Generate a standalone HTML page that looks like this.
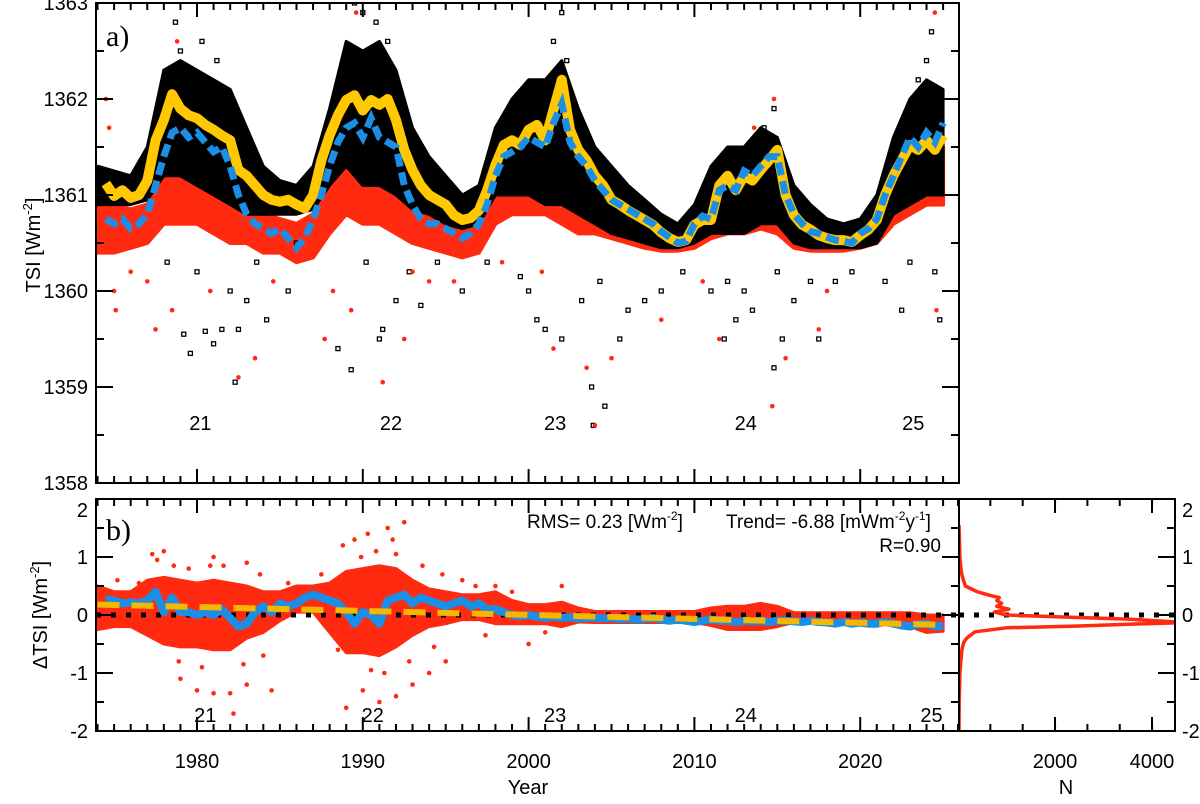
<!DOCTYPE html>
<html><head><meta charset="utf-8"><style>
body{margin:0;background:#fff}
svg text{font-family:"Liberation Sans",Arial,sans-serif;fill:#000}
</style></head><body>
<svg id="chart" width="1200" height="799" viewBox="0 0 1200 799" xmlns="http://www.w3.org/2000/svg">
<defs>
<clipPath id="clipA"><rect x="96" y="3" width="863" height="480"/></clipPath>
<clipPath id="clipB"><rect x="96" y="499" width="863" height="232"/></clipPath>
<clipPath id="clipH"><rect x="959" y="499" width="216" height="232"/></clipPath>
</defs>
<g id="layerA" clip-path="url(#clipA)"></g>
<g id="layerB" clip-path="url(#clipB)"></g>
<g id="layerH" clip-path="url(#clipH)"></g>
<g id="axes"></g>
<text x="106" y="46" font-size="30" style="font-family:'Liberation Serif',serif">a)</text>
<text x="106" y="540" font-size="30" style="font-family:'Liberation Serif',serif">b)</text>
<text transform="translate(40,245) rotate(-90)" font-size="20" text-anchor="middle">TSI [Wm<tspan dy="-8" font-size="13">-2</tspan><tspan dy="8">]</tspan></text>
<text transform="translate(47,615) rotate(-90)" font-size="20" text-anchor="middle">ΔTSI [Wm<tspan dy="-8" font-size="13">-2</tspan><tspan dy="8">]</tspan></text>
<text x="528" y="794" font-size="20" text-anchor="middle">Year</text>
<text x="1066" y="794" font-size="20" text-anchor="middle">N</text>
<text x="527" y="528" font-size="19">RMS= 0.23 [Wm<tspan dy="-8" font-size="12">-2</tspan><tspan dy="8">]</tspan></text>
<text x="726" y="528" font-size="19">Trend= -6.88 [mWm<tspan dy="-8" font-size="12">-2</tspan><tspan dy="8">y</tspan><tspan dy="-8" font-size="12">-1</tspan><tspan dy="8">]</tspan></text>
<text x="941" y="552" font-size="19" text-anchor="end">R=0.90</text>
<script>
// ---------- data ----------
const halfStart = 1974.5;
const yellowTSI = [1361.12,1360.99,1361.05,1360.97,1361.0,1361.15,1361.57,1361.78,1362.05,1361.9,1361.83,1361.8,1361.73,1361.68,1361.62,1361.57,1361.26,1361.2,1361.1,1361.0,1360.95,1360.93,1360.95,1360.9,1360.86,1361.0,1361.36,1361.62,1361.83,1361.99,1362.04,1361.88,1361.99,1361.94,1362.0,1361.78,1361.47,1361.26,1361.1,1361.0,1360.95,1360.9,1360.79,1360.74,1360.76,1360.84,1361.05,1361.31,1361.52,1361.57,1361.52,1361.68,1361.73,1361.57,1361.89,1362.2,1361.68,1361.47,1361.36,1361.2,1361.1,1360.95,1360.9,1360.84,1360.79,1360.74,1360.69,1360.61,1360.55,1360.51,1360.53,1360.69,1360.74,1360.74,1361.1,1361.2,1361.05,1361.2,1361.15,1361.26,1361.36,1361.47,1361.0,1360.79,1360.69,1360.64,1360.58,1360.55,1360.53,1360.53,1360.51,1360.58,1360.64,1360.74,1361.0,1361.2,1361.36,1361.52,1361.47,1361.57,1361.47,1361.62];
const blueTSI = [1360.75,1360.7,1360.75,1360.65,1360.7,1360.8,1361.1,1361.4,1361.65,1361.7,1361.6,1361.65,1361.55,1361.45,1361.5,1361.3,1361.0,1360.8,1360.7,1360.65,1360.6,1360.65,1360.55,1360.45,1360.55,1360.75,1361.0,1361.3,1361.55,1361.7,1361.75,1361.6,1361.8,1361.6,1361.55,1361.5,1361.1,1360.9,1360.75,1360.7,1360.7,1360.65,1360.6,1360.55,1360.6,1360.7,1360.9,1361.2,1361.4,1361.45,1361.5,1361.6,1361.55,1361.5,1361.75,1361.95,1361.55,1361.4,1361.3,1361.15,1361.05,1360.95,1360.9,1360.85,1360.8,1360.75,1360.7,1360.62,1360.56,1360.5,1360.52,1360.7,1360.78,1360.75,1361.05,1361.1,1361.05,1361.25,1361.2,1361.3,1361.4,1361.4,1361.0,1360.8,1360.7,1360.62,1360.6,1360.56,1360.53,1360.52,1360.5,1360.6,1360.65,1360.75,1361.0,1361.2,1361.4,1361.6,1361.5,1361.65,1361.55,1361.75];
const annYears = [1974,1975,1976,1977,1978,1979,1980,1981,1982,1983,1984,1985,1986,1987,1988,1989,1990,1991,1992,1993,1994,1995,1996,1997,1998,1999,2000,2001,2002,2003,2004,2005,2006,2007,2008,2009,2010,2011,2012,2013,2014,2015,2016,2017,2018,2019,2020,2021,2022,2023,2024,2025];
const blackHi = [1361.3,1361.25,1361.2,1361.5,1362.3,1362.4,1362.3,1362.2,1362.1,1361.7,1361.3,1361.15,1361.1,1361.3,1361.9,1362.6,1362.5,1362.6,1362.3,1361.7,1361.4,1361.2,1361.0,1361.1,1361.7,1362.0,1362.2,1362.2,1362.4,1361.9,1361.5,1361.3,1361.1,1360.95,1360.8,1360.7,1360.9,1361.3,1361.5,1361.5,1361.7,1361.6,1361.1,1360.9,1360.75,1360.7,1360.75,1361.0,1361.6,1362.0,1362.2,1362.1];
const blackLo = [1360.9,1360.9,1360.9,1360.95,1361.2,1361.2,1361.1,1361.0,1360.9,1360.8,1360.8,1360.8,1360.8,1360.85,1361.1,1361.3,1361.1,1361.1,1361.0,1360.85,1360.8,1360.7,1360.65,1360.7,1361.0,1361.0,1361.0,1360.9,1360.9,1360.8,1360.7,1360.6,1360.55,1360.5,1360.45,1360.45,1360.5,1360.6,1360.6,1360.6,1360.7,1360.7,1360.5,1360.45,1360.45,1360.45,1360.45,1360.5,1360.8,1360.9,1361.0,1361.0];
const redHi = [1361.0,1360.9,1360.85,1360.9,1361.3,1361.4,1361.3,1361.2,1361.1,1360.9,1360.8,1360.75,1360.7,1360.8,1361.2,1361.4,1361.4,1361.5,1361.3,1360.9,1360.8,1360.7,1360.65,1360.7,1361.1,1361.2,1361.3,1361.2,1361.2,1361.0,1360.9,1360.8,1360.7,1360.6,1360.55,1360.55,1360.6,1360.9,1361.0,1361.0,1361.1,1361.1,1360.8,1360.6,1360.55,1360.55,1360.6,1360.8,1361.2,1361.4,1361.6,1361.5];
const redLo = [1360.4,1360.4,1360.45,1360.5,1360.7,1360.7,1360.7,1360.6,1360.5,1360.5,1360.4,1360.4,1360.3,1360.35,1360.6,1360.8,1360.7,1360.7,1360.6,1360.5,1360.45,1360.4,1360.35,1360.4,1360.7,1360.8,1360.8,1360.8,1360.7,1360.6,1360.6,1360.55,1360.5,1360.45,1360.42,1360.42,1360.45,1360.55,1360.6,1360.6,1360.65,1360.6,1360.45,1360.42,1360.42,1360.42,1360.45,1360.5,1360.7,1360.8,1360.9,1360.9];
const blackOutYears = [1979.2,1979.6,1980.5,1981.0,1981.5,1982.3,1982.5,1983,1984.2,1985.5,1988.5,1989.3,1991.0,1991.2,1992,1993.5,1996,1999.5,2000.5,2001,2002,2003.8,2003.9,2004.6,2005.5,2006,2007,2008,2011,2011.8,2012.5,2013.5,2014.8,2015.3,2016,2017.5,2018.5,2022.5,2024.5,2024.8,1978.7,1979,1980.3,1981.2,1989.5,1990,1990.8,1991.5,2001.5,2002,2002.3,2014.8,2014.2,2024.0,2024.3,2023.5,1978.2,1980.0,1982.0,1983.6,1986.0,1990.2,1992.8,1994.5,1997.5,2000.0,2003.2,2004.3,2009.3,2012.0,2013.0,2015.0,2017.0,2019.5,2021.5,2023.0];
const blackOutVals = [1359.55,1359.35,1359.58,1359.45,1359.6,1359.05,1359.6,1359.9,1359.7,1360.0,1359.4,1359.18,1359.5,1359.6,1359.9,1359.85,1360.0,1360.15,1359.7,1359.6,1359.5,1359.0,1358.6,1358.8,1359.5,1359.8,1359.9,1360.0,1360.0,1359.5,1359.7,1359.8,1359.2,1359.5,1359.9,1359.5,1360.1,1359.8,1360.2,1359.7,1362.8,1362.5,1362.6,1362.4,1363.0,1362.9,1362.8,1362.6,1362.6,1362.9,1362.4,1361.9,1361.7,1362.4,1362.7,1362.2,1360.3,1360.2,1360.0,1360.3,1360.5,1360.3,1360.2,1360.3,1360.3,1360.0,1359.9,1360.1,1360.2,1360.1,1360.0,1360.2,1360.1,1360.2,1360.1,1360.3];
const redOutYears = [1975,1975.1,1977.5,1978.5,1982.5,1983.5,1987.7,1989.3,1991.2,1992.5,1994,2001.5,2003.5,2004,2005,2008,2011.5,2014.7,2015.5,2017.5,2018,2024.6,1974.5,1974.7,1978.8,1989.6,2013.6,2014.8,2024.5,1976.0,1977.0,1980.8,1984.6,1988.2,1993.0,1995.5,1998.4,2000.8,2010.5];
const redOutVals = [1360.0,1359.8,1359.6,1359.8,1359.1,1359.3,1359.5,1359.8,1359.05,1359.5,1360.1,1359.4,1359.2,1358.6,1359.3,1359.7,1359.5,1358.8,1359.3,1359.6,1360.0,1359.8,1362.0,1361.7,1362.6,1362.9,1361.7,1362.0,1362.9,1360.2,1360.1,1360.0,1360.1,1360.0,1360.2,1360.1,1360.3,1360.2,1360.1];
const cycleLabels = ["21","22","23","24","25"];
const cycleYearsA = [1980.2,1991.7,2001.6,2013.1,2023.2];
const cycleYearsB = [1980.5,1990.6,2001.6,2013.1,2024.3];
// panel b
const dBlue = [0.28,0.25,0.2,0.22,0.2,0.25,0.4,0.05,0.3,0.05,0.05,0.0,0.05,0.0,0.1,-0.05,-0.2,-0.15,0.05,0.15,0.05,0.2,0.15,0.2,0.3,0.35,0.3,0.25,0.2,0.05,-0.15,0.05,0.0,-0.15,0.25,0.3,0.35,0.2,0.3,0.25,0.2,0.15,0.2,0.25,0.15,0.2,0.1,0.1,0.05,0.0,-0.02,0.0,-0.03,-0.05,-0.03,-0.05,-0.04,-0.06,-0.05,-0.05,-0.06,-0.05,-0.07,-0.06,-0.08,-0.07,-0.05,-0.08,-0.1,-0.08,-0.1,-0.12,-0.1,-0.08,-0.1,-0.1,-0.12,-0.1,-0.11,-0.1,-0.12,-0.1,-0.1,-0.11,-0.12,-0.1,-0.12,-0.13,-0.15,-0.12,-0.15,-0.13,-0.15,-0.15,-0.12,-0.15,-0.18,-0.2,-0.16,-0.15,-0.2,-0.18];
const dRedHi = [0.5,0.4,0.4,0.6,0.65,0.6,0.55,0.6,0.55,0.5,0.4,0.4,0.5,0.5,0.55,0.75,0.8,0.85,0.8,0.6,0.45,0.4,0.35,0.35,0.4,0.25,0.18,0.18,0.22,0.12,0.06,0.06,0.06,0.06,0.06,0.06,0.06,0.12,0.15,0.15,0.2,0.15,0.04,0.04,0.04,0.04,0.04,0.04,0.04,0.04,0.0,0.0];
const dRedLo = [-0.25,-0.2,-0.2,-0.35,-0.5,-0.55,-0.55,-0.6,-0.6,-0.4,-0.3,-0.1,0.05,0.05,-0.3,-0.65,-0.65,-0.7,-0.55,-0.35,-0.2,-0.15,-0.08,-0.08,-0.15,-0.15,-0.15,-0.15,-0.2,-0.12,-0.13,-0.13,-0.13,-0.13,-0.13,-0.13,-0.13,-0.18,-0.25,-0.25,-0.25,-0.2,-0.13,-0.13,-0.13,-0.13,-0.13,-0.13,-0.13,-0.2,-0.3,-0.28];
const dOutYears = [1977.3,1978,1981,1983,1979,1980,1981,1982,1982.2,1983,1984.5,1989.5,1990.3,1991.5,1992.5,1990,1991,1992,1993,1989,1996,1998,1995,1994,2002,2000,1977.6,1980.8,1988.8,1991.8,1975.2,1976.5,1978.6,1979.5,1981.6,1983.8,1985.5,1987.5,1989.9,1990.8,1992.0,1993.6,1994.8,1996.8,1999.0,1978.9,1980.3,1982.8,1984.0,1988.5,1990.5,1991.3,1992.8,1994.3,1997.4,2001.0];
const dOutVals = [1.05,1.1,1.0,0.9,-1.1,-1.3,-1.35,-1.35,-1.7,-1.2,-1.3,1.3,1.4,1.5,1.6,-1.3,-1.5,-1.4,-1.2,-1.6,0.6,0.5,-0.8,-1.0,0.5,-0.5,0.95,0.85,1.2,1.3,0.6,0.55,0.85,0.8,0.85,0.7,0.55,0.7,1.0,1.1,1.05,0.85,0.7,0.5,0.4,-0.8,-0.9,-0.85,-0.7,-0.6,-0.95,-1.0,-0.8,-0.55,-0.35,-0.3];
const trendYears = [1974, 2025];
const trendVals = [0.18, -0.17];
// histogram
const histBins = [1.55,1.0,0.8,0.69,0.5,0.4,0.33,0.3,0.25,0.2,0.15,0.1,0.05,0.02,0.0,-0.03,-0.07,-0.11,-0.13,-0.16,-0.19,-0.22,-0.29,-0.4,-0.47,-0.6,-0.78,-1.0,-1.5,-2.0];
const histN = [20,40,60,80,150,400,700,850,800,900,800,1050,750,900,1000,2000,3500,4300,4700,3500,2500,1000,350,180,120,80,60,40,25,20];
const yTicksA = [1358,1359,1360,1361,1362,1363];
const yTicksB = [-2,-1,0,1,2];
const xTicks = [1980,1990,2000,2010,2020];
const nTicks = [2000,4000];

// ---------- scales ----------
const X = y => 197 + (y - 1980) * 16.58;
const YA = v => 483 - (v - 1358) * 96;
const YB = d => 615 - d * 58;
const XN = n => 958 + n * 97 / 2000;
const NS = 'http://www.w3.org/2000/svg';
function mk(tag, parent, attrs) {
  const e = document.createElementNS(NS, tag);
  for (const k in attrs) e.setAttribute(k, attrs[k]);
  parent.appendChild(e); return e;
}
const A = document.getElementById('layerA'), B = document.getElementById('layerB'), H = document.getElementById('layerH'), AX = document.getElementById('axes');
function areaPath(xs, hi, lo, xf, yf) {
  let d = '';
  xs.forEach((x, i) => d += (i ? 'L' : 'M') + xf(x).toFixed(1) + ',' + yf(hi[i]).toFixed(1));
  for (let i = xs.length - 1; i >= 0; i--) d += 'L' + xf(xs[i]).toFixed(1) + ',' + yf(lo[i]).toFixed(1);
  return d + 'Z';
}
function linePath(vals, xf, yf) {
  return vals.map((v, i) => (i ? 'L' : 'M') + xf(halfStart + i * 0.5).toFixed(1) + ',' + yf(v).toFixed(1)).join('');
}
let e;
e = mk('path', A, {d: areaPath(annYears, redHi, redLo, X, YA), fill: '#ff2a10', stroke: '#ff2a10', 'stroke-width': 4, 'stroke-linejoin': 'round'});


e = mk('path', A, {d: areaPath(annYears, blackHi, blackLo, X, YA), fill: '#000', stroke: '#000', 'stroke-width': 3, 'stroke-linejoin': 'round'});


blackOutYears.forEach((y, i) => {
  const r = mk('rect', A, {x: X(y) - 2, y: YA(blackOutVals[i]) - 2, width: 4, height: 4, fill: 'none', stroke: '#000', 'stroke-width': 1.3});
  
  
});
redOutYears.forEach((y, i) => {
  const c = mk('circle', A, {cx: X(y), cy: YA(redOutVals[i]), r: 2.3, fill: '#ff2a10'});
  
  
});
e = mk('path', A, {d: linePath(yellowTSI, X, YA), fill: 'none', stroke: '#ffc800', 'stroke-width': 10, 'stroke-linejoin': 'round'});


e = mk('path', A, {d: linePath(blueTSI, X, YA), fill: 'none', stroke: '#1b8fe6', 'stroke-width': 7, 'stroke-dasharray': '13 6'});


// panel b
e = mk('path', B, {d: areaPath(annYears, dRedHi, dRedLo, X, YB), fill: '#ff2a10', stroke: '#ff2a10', 'stroke-width': 3, 'stroke-linejoin': 'round'});


dOutYears.forEach((y, i) => {
  const c = mk('circle', B, {cx: X(y), cy: YB(dOutVals[i]), r: 2.3, fill: '#ff2a10'});
  
  
});
e = mk('line', B, {x1: 96, x2: 960, y1: YB(0), y2: YB(0), stroke: '#000', 'stroke-width': 5, 'stroke-dasharray': '5 10'});


e = mk('path', B, {d: linePath(dBlue, X, YB), fill: 'none', stroke: '#1b8fe6', 'stroke-width': 8, 'stroke-linejoin': 'round'});


e = mk('line', B, {x1: X(trendYears[0]), x2: X(trendYears[1]), y1: YB(trendVals[0]), y2: YB(trendVals[1]), stroke: '#f5b800', 'stroke-width': 6, 'stroke-dasharray': '22 12'});


// histogram
e = mk('line', H, {x1: 959, x2: 1175, y1: YB(0), y2: YB(0), stroke: '#000', 'stroke-width': 5, 'stroke-dasharray': '5 10'});


e = mk('path', H, {d: histBins.map((b, i) => (i ? 'L' : 'M') + XN(histN[i]).toFixed(1) + ',' + YB(b).toFixed(1)).join(''), fill: 'none', stroke: '#ff2a10', 'stroke-width': 3.5, 'stroke-linejoin': 'round'});


cycleLabels.forEach((t, i) => {
  let tx = mk('text', AX, {x: X(cycleYearsA[i]), y: 430, 'font-size': 20, 'text-anchor': 'middle'});
  tx.textContent = t;
  
  
  tx = mk('text', AX, {x: X(cycleYearsB[i]), y: 722, 'font-size': 20, 'text-anchor': 'middle'});
  tx.textContent = t;
  
  
});
const fr = [[96, 3, 863, 480], [96, 499, 863, 232], [959, 499, 216, 232]];
fr.forEach(f => {
  const r = mk('rect', AX, {x: f[0], y: f[1], width: f[2], height: f[3], fill: 'none', stroke: '#000', 'stroke-width': 2});
  
  
});
function tick(x1, y1, x2, y2) {
  const l = mk('line', AX, {x1, y1, x2, y2, stroke: '#000', 'stroke-width': 2});
  
  
}
for (let yr = 1974; yr <= 2025; yr++) {
  const len = yr % 10 === 0 ? 14 : 7, x = X(yr);
  tick(x, 3, x, 3 + len); tick(x, 483, x, 483 - len);
  tick(x, 499, x, 499 + len); tick(x, 731, x, 731 - len);
}
for (let v = 1358; v <= 1363; v += 0.5) {
  const len = v % 1 === 0 ? 17 : 8, y = YA(v);
  tick(96, y, 96 + len, y); tick(959, y, 959 - len, y);
}
for (let d = -2; d <= 2; d += 0.5) {
  const len = d % 1 === 0 ? 17 : 8, y = YB(d);
  tick(96, y, 96 + len, y); tick(959, y, 959 - len, y); tick(1175, y, 1175 - len, y);
}
for (let n = 0; n <= 4400; n += 667) { tick(XN(n), 499, XN(n), 506); tick(XN(n), 731, XN(n), 724); }
nTicks.forEach(n => { tick(XN(n), 499, XN(n), 513); tick(XN(n), 731, XN(n), 717); });
yTicksA.forEach(v => {
  const t = mk('text', AX, {x: 88, y: YA(v) + 7, 'font-size': 20, 'text-anchor': 'end'});
  t.textContent = v;
  
  
});
yTicksB.forEach(d => {
  let t = mk('text', AX, {x: 88, y: Math.min(Math.max(YB(d) + 7, 517), 754), 'font-size': 20, 'text-anchor': 'end'});
  t.textContent = d;
  
  
  t = mk('text', AX, {x: 1182, y: Math.min(Math.max(YB(d) + 7, 517), 754), 'font-size': 20});
  t.textContent = d;
  
  
});
xTicks.forEach(yr => {
  const t = mk('text', AX, {x: X(yr), y: 768, 'font-size': 20, 'text-anchor': 'middle'});
  t.textContent = yr;
  
  
});
nTicks.forEach(n => {
  const t = mk('text', AX, {x: XN(n), y: 768, 'font-size': 20, 'text-anchor': 'middle'});
  t.textContent = n;
  
  
});
</script>
</svg>
</body></html>
